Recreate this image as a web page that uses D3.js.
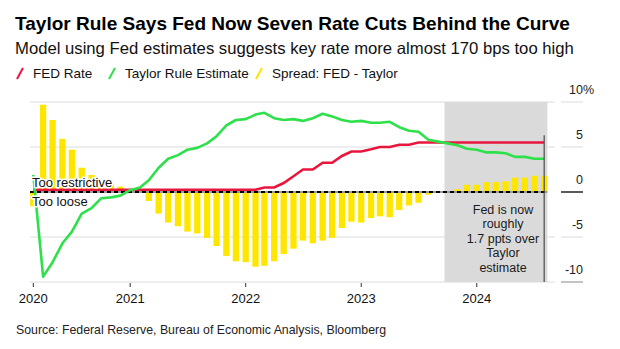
<!DOCTYPE html>
<html>
<head>
<meta charset="utf-8">
<script src="https://cdn.jsdelivr.net/npm/d3@7"></script>
<style>
  html, body { margin: 0; padding: 0; background: #fff; }
  svg { display: block; font-family: "Liberation Sans", Arial, sans-serif; }
</style>
</head>
<body>
<svg id="chart"></svg>
<script>
// months, Mar 2020 - Aug 2024
const months = [
  "2020-03","2020-04","2020-05","2020-06","2020-07","2020-08","2020-09","2020-10","2020-11","2020-12",
  "2021-01","2021-02","2021-03","2021-04","2021-05","2021-06","2021-07","2021-08","2021-09","2021-10","2021-11","2021-12",
  "2022-01","2022-02","2022-03","2022-04","2022-05","2022-06","2022-07","2022-08","2022-09","2022-10","2022-11","2022-12",
  "2023-01","2023-02","2023-03","2023-04","2023-05","2023-06","2023-07","2023-08","2023-09","2023-10","2023-11","2023-12",
  "2024-01","2024-02","2024-03","2024-04","2024-05","2024-06","2024-07","2024-08"
];

const fedRate = [
  0.25,0.25,0.25,0.25,0.25,0.25,0.25,0.25,0.25,0.25,
  0.25,0.25,0.25,0.25,0.25,0.25,0.25,0.25,0.25,0.25,0.25,0.25,
  0.25,0.25,0.5,0.5,1.0,1.75,2.5,2.5,3.25,3.25,4.0,4.5,
  4.5,4.75,5.0,5.0,5.25,5.25,5.5,5.5,5.5,5.5,5.5,5.5,
  5.5,5.5,5.5,5.5,5.5,5.5,5.5,5.5
];

const taylor = [
  1.9,-9.4,-7.8,-5.7,-4.4,-2.4,-1.8,-0.7,-0.6,-0.4,
  0.2,0.5,1.3,2.7,3.7,4.1,4.7,4.9,5.4,6.2,7.4,8.0,
  8.1,8.6,8.8,8.2,8.0,8.1,7.9,8.2,8.7,8.4,8.0,7.8,
  7.9,7.7,7.7,7.8,7.2,6.8,6.7,5.8,5.6,5.4,5.2,4.8,
  4.7,4.4,4.4,4.3,3.9,3.9,3.7,3.7
];

const spread = [
  -1.6,9.7,8.0,5.9,4.7,2.7,1.9,0.9,0.8,0.6,
  0.0,-0.1,-1.0,-2.4,-3.4,-3.8,-4.4,-4.6,-5.1,-6.0,-7.1,-7.7,
  -7.8,-8.3,-8.2,-7.7,-6.9,-6.3,-5.4,-5.7,-5.4,-5.1,-4.0,-3.3,
  -3.4,-2.9,-2.7,-2.8,-2.0,-1.5,-1.2,-0.3,-0.1,0.1,0.3,0.8,
  0.8,1.1,1.1,1.2,1.6,1.6,1.8,1.8
];

const xTicks = ["2020-03","2021-01","2022-01","2023-01","2024-01"];
const xTickLabels = ["2020","2021","2022","2023","2024"];
const yTicks = [10, 5, 0, -5, -10];
const shadeFrom = "2023-10";
const noteLines = ["Fed is now", "roughly", "1.7 ppts over", "Taylor", "estimate"];

// Set up dimensions
const width = 620;
const height = 349;
const plot = { left: 30, right: 555, top: 102, bottom: 282 };

const parse = d3.timeParse("%Y-%m");
const data = months.map((m, i) => ({
  date: parse(m), fed: fedRate[i], taylor: taylor[i], spread: spread[i]
}));

const svg = d3.select("#chart").attr("width", width).attr("height", height);

const x = d3.scaleTime()
  .domain([data[0].date, data[data.length - 1].date])
  .range([33.3, 544.2]);

const y = d3.scaleLinear().domain([-10, 10]).range([plot.bottom, plot.top]);

const barW = 6.3;

// Title, subtitle
function fit(sel, w) {
  const len = sel.node().getComputedTextLength();
  const fs = parseFloat(sel.attr("font-size"));
  sel.attr("font-size", (fs * w / len).toFixed(2));
}

const title = svg.append("text")
  .attr("x", 15).attr("y", 29.5)
  .attr("font-size", 19).attr("font-weight", "bold").attr("fill", "#000")
  .text("Taylor Rule Says Fed Now Seven Rate Cuts Behind the Curve");
fit(title, 555);

const sub = svg.append("text")
  .attr("x", 15).attr("y", 54)
  .attr("font-size", 16).attr("fill", "#111")
  .text("Model using Fed estimates suggests key rate more almost 170 bps too high");
fit(sub, 559);

// Legend
const legend = [
  { label: "FED Rate", color: "#e8163c", x: 17 },
  { label: "Taylor Rule Estimate", color: "#2ee04a", x: 109 },
  { label: "Spread: FED - Taylor", color: "#ffe600", x: 256 }
];
const lg = svg.append("g").selectAll("g").data(legend).enter().append("g");
lg.append("line")
  .attr("x1", d => d.x).attr("y1", 79)
  .attr("x2", d => d.x + 6).attr("y2", 68)
  .attr("stroke", d => d.color).attr("stroke-width", 2);
lg.append("text")
  .attr("x", d => d.x + 16).attr("y", 78)
  .attr("font-size", 13.5).attr("fill", "#111")
  .text(d => d.label);

// Gridlines
svg.append("g")
  .selectAll("line")
  .data(yTicks.filter(v => v !== 0))
  .enter().append("line")
  .attr("x1", plot.left).attr("x2", plot.right)
  .attr("y1", d => y(d)).attr("y2", d => y(d))
  .attr("stroke", "#dcdcdc").attr("stroke-width", 1);

// Shaded recent period
const last = data[data.length - 1].date;
svg.append("rect")
  .attr("x", x(parse(shadeFrom)) - barW / 2)
  .attr("y", y(10))
  .attr("width", x(last) + barW / 2 - (x(parse(shadeFrom)) - barW / 2))
  .attr("height", y(-10) - y(10))
  .attr("fill", "#dadada");

// Spread bars
svg.append("g")
  .selectAll("rect")
  .data(data)
  .enter().append("rect")
  .attr("x", d => x(d.date) - barW / 2)
  .attr("width", barW)
  .attr("y", d => y(Math.max(0, d.spread)))
  .attr("height", d => Math.abs(y(d.spread) - y(0)))
  .attr("fill", "#ffe600");

// Zero line
svg.append("line")
  .attr("x1", plot.left).attr("x2", x(last) + barW / 2)
  .attr("y1", y(0)).attr("y2", y(0))
  .attr("stroke", "#9a9a9a").attr("stroke-width", 2);
svg.append("line")
  .attr("x1", plot.left).attr("x2", x(last) + barW / 2)
  .attr("y1", y(0)).attr("y2", y(0))
  .attr("stroke", "#000").attr("stroke-width", 2)
  .attr("stroke-dasharray", "4,3");

// Lines
const fedLine = d3.line().x(d => x(d.date)).y(d => y(d.fed));
const taylorLine = d3.line().x(d => x(d.date)).y(d => y(d.taylor));

svg.append("path")
  .datum(data)
  .attr("d", fedLine)
  .attr("fill", "none")
  .attr("stroke", "#e8163c")
  .attr("stroke-width", 2.6);

svg.append("path")
  .datum(data)
  .attr("d", taylorLine)
  .attr("fill", "none")
  .attr("stroke", "#2ee04a")
  .attr("stroke-width", 2.6)
  .attr("stroke-linejoin", "round");

// Too restrictive / too loose
svg.append("g")
  .selectAll("text")
  .data([{ t: "Too restrictive", y: 187 }, { t: "Too loose", y: 205.5 }])
  .enter().append("text")
  .attr("x", 32).attr("y", d => d.y)
  .attr("font-size", 13).attr("fill", "#111")
  .attr("stroke", "#fff").attr("stroke-width", 3)
  .attr("paint-order", "stroke").attr("stroke-linejoin", "round")
  .text(d => d.t);

// End marker and note
svg.append("line")
  .attr("x1", x(last)).attr("x2", x(last))
  .attr("y1", y(6.3)).attr("y2", y(-10))
  .attr("stroke", "#555").attr("stroke-width", 1.3);

svg.append("g")
  .selectAll("text")
  .data(noteLines)
  .enter().append("text")
  .attr("x", 503)
  .attr("y", (d, i) => 213.5 + i * 14.6)
  .attr("text-anchor", "middle")
  .attr("font-size", 12.5).attr("fill", "#1a1a1a")
  .text(d => d);

// Right axis
const ya = svg.append("g");
ya.selectAll("line")
  .data(yTicks)
  .enter().append("line")
  .attr("x1", 561).attr("x2", 583)
  .attr("y1", d => y(d)).attr("y2", d => y(d))
  .attr("stroke", d => d === 0 ? "#000" : (d === -10 ? "#888" : "#dcdcdc"))
  .attr("stroke-width", d => d === 0 ? 1.3 : 1);
ya.selectAll("text")
  .data(yTicks)
  .enter().append("text")
  .attr("x", 583)
  .attr("y", d => y(d) - 8)
  .attr("text-anchor", "end")
  .attr("font-size", 12.5).attr("fill", "#222")
  .text(d => d);
ya.append("text")
  .attr("x", 583).attr("y", y(10) - 8)
  .attr("font-size", 12.5).attr("fill", "#222")
  .text("%");

// Bottom axis
const xa = svg.append("g");
xa.selectAll("line")
  .data(xTicks)
  .enter().append("line")
  .attr("x1", d => x(parse(d))).attr("x2", d => x(parse(d)))
  .attr("y1", 283).attr("y2", 287)
  .attr("stroke", "#333").attr("stroke-width", 1);
xa.selectAll("text")
  .data(xTicks)
  .enter().append("text")
  .attr("x", d => x(parse(d)))
  .attr("y", 303)
  .attr("text-anchor", "middle")
  .attr("font-size", 13).attr("fill", "#111")
  .text((d, i) => xTickLabels[i]);

// Source
const src = svg.append("text")
  .attr("x", 16).attr("y", 334)
  .attr("font-size", 12).attr("fill", "#222")
  .text("Source: Federal Reserve, Bureau of Economic Analysis, Bloomberg");
fit(src, 370);
</script>
</body>
</html>
